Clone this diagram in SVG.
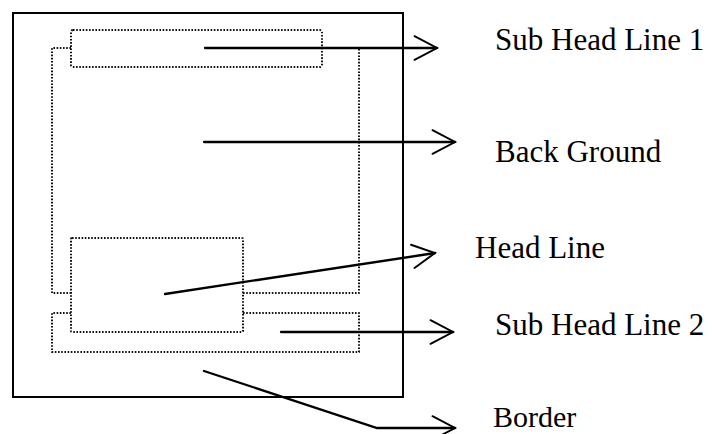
<svg xmlns="http://www.w3.org/2000/svg" width="712" height="434" viewBox="0 0 712 434">
<style>
.dot{fill:none;stroke:#111;stroke-width:2;stroke-dasharray:1.6 1.6;stroke-linejoin:round}
.con{fill:none;stroke:#000;stroke-width:2.3;stroke-linecap:round}
.lbl{font-family:"Liberation Serif","Times New Roman",serif;font-size:31px;fill:#000}
</style>
<defs>
<marker id="chev" markerUnits="userSpaceOnUse" markerWidth="30" markerHeight="30" viewBox="-25 -14 28 28" refX="0" refY="0" orient="auto" overflow="visible">
<path d="M-21,-11 L0,0 L-21,11" fill="none" stroke="#000" stroke-width="1.8" stroke-linecap="round" stroke-linejoin="miter"/>
</marker>
</defs>
<rect width="712" height="434" fill="#fff"/>
<g id="border">
<rect x="13" y="13" width="390" height="384" fill="none" stroke="#000" stroke-width="2"/>
</g>
<g id="background">
<path class="dot" d="M71,48 L52,48 L52,293 L71,293 M243,293 L359,293 L359,48 L322,48"/>
</g>
<g id="subheadline1">
<rect class="dot" x="71" y="30" width="251" height="37" rx="2"/>
</g>
<g id="headline">
<rect class="dot" x="71" y="238" width="172" height="94" rx="1"/>
</g>
<g id="subheadline2">
<path class="dot" d="M71,313 L52,313 L52,352 L359,352 L359,313 L243,313"/>
</g>
<g id="connectors">
<path class="con" d="M205,48 L437,48" marker-end="url(#chev)"/>
<path class="con" d="M204,142 L455,142" marker-end="url(#chev)"/>
<path class="con" d="M165,294 L435,253" marker-end="url(#chev)"/>
<path class="con" d="M281,332 L453,332" marker-end="url(#chev)"/>
<path class="con" d="M204,371 L377,428 L455,428" marker-end="url(#chev)"/>
</g>
<g id="labels">
<text class="lbl" x="495" y="50">Sub Head Line 1</text>
<text class="lbl" x="495" y="162">Back Ground</text>
<text class="lbl" x="475" y="258">Head Line</text>
<text class="lbl" x="495" y="335">Sub Head Line 2</text>
<text class="lbl" x="493" y="427" style="font-size:30px">Border</text>
</g>
</svg>
